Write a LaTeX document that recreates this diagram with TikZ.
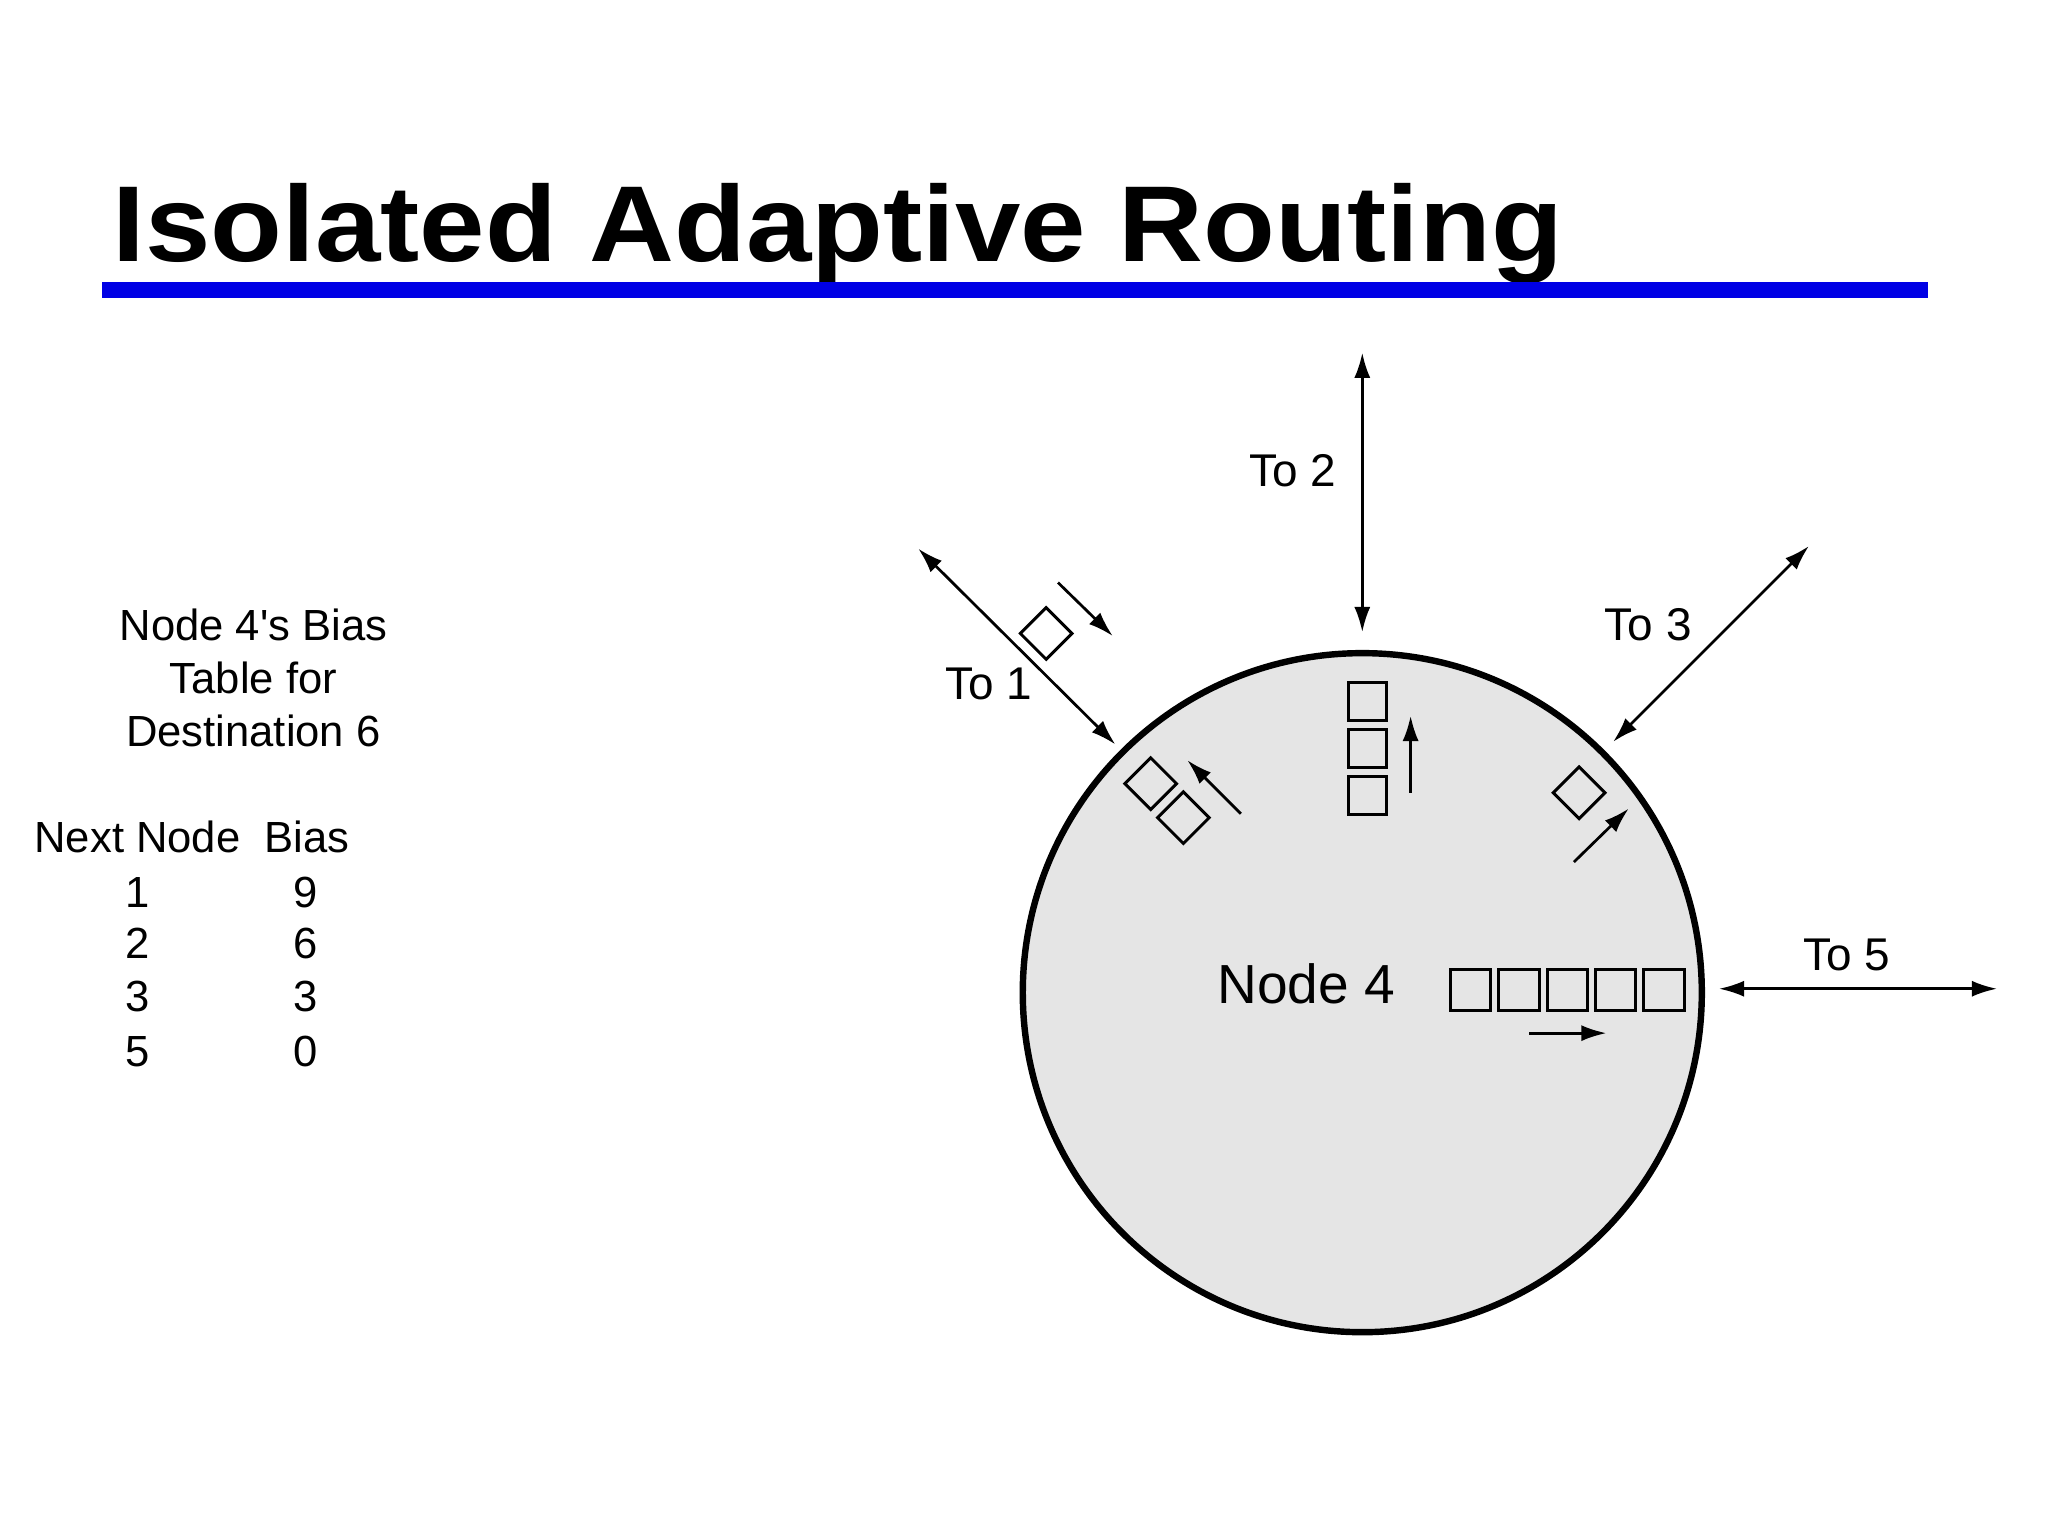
\documentclass[tikz,border=0pt]{standalone}
\usepackage{fontspec}
\setmainfont{Liberation Sans}
\usetikzlibrary{arrows.meta}
\begin{document}
\begin{tikzpicture}[x=0.02cm,y=-0.02cm,
  lbl/.style={font=\fontsize{19}{22}\selectfont},
  tlbl/.style={font=\fontsize{20}{23}\selectfont},
  box/.style={draw,line width=1.3pt,minimum size=0.58cm,inner sep=0pt},
  dbox/.style={box,rotate=45,minimum size=0.56cm},
  link/.style={line width=1.2pt,{Latex[length=11pt,width=7pt]}-{Latex[length=11pt,width=7pt]}},
  flow/.style={line width=1.2pt,-{Latex[length=11pt,width=7pt]}}]
\useasboundingbox (0,0) rectangle (1568,1176);
\node[anchor=base west,inner sep=0pt,xscale=1.09,transform shape,font=\bfseries\fontsize{47}{50}\selectfont] (title) at (86,200) {Isolated Adaptive Routing};
\fill[blue!90!black] (78,216) rectangle (1476,228);
% table
\node[lbl,align=center] (cap) at (194,519) {Node 4\textquotesingle s Bias\\[1pt]Table for\\[1pt]Destination 6};
\node[lbl] (hdr) at (147,641) {Next Node\ \ Bias};
\foreach \a/\b/\y in {1/9/683,2/6/722,3/3/763,5/0/805}{
  \node[lbl] (n\a) at (105,\y) {\a};
  \node[lbl] (b\a) at (234,\y) {\b};}
% circle
\node[draw,circle,fill=gray!20,line width=2.8pt,minimum size=10.4cm] (c) at (1043,760) {};
\node[font=\fontsize{24}{28}\selectfont] (n4) at (1000,753) {Node 4};
% links
\coordinate (t2a) at (1043,270); \coordinate (t2b) at (1043,484);
\draw[link] (t2a) -- (t2b);
\node[tlbl] (l2) at (990,360) {To 2};
\coordinate (t1a) at (703,420); \coordinate (t1b) at (854,570);
\draw[link] (t1a) -- (t1b);
\node[tlbl] (l1) at (757,524) {To 1};
\coordinate (t3a) at (1385,418); \coordinate (t3b) at (1235,568);
\draw[link] (t3a) -- (t3b);
\node[tlbl] (l3) at (1262,478) {To 3};
\coordinate (t5a) at (1316,757); \coordinate (t5b) at (1529,757);
\draw[link] (t5a) -- (t5b);
\node[tlbl] (l5) at (1414,731) {To 5};
% queues
\node[dbox] (d1) at (801,485) {};
\node[dbox] (d2) at (881,600) {};
\node[dbox] (d3) at (906,626) {};
\node[dbox] (d4) at (1209,607) {};
\foreach \i/\y in {1/537,2/573,3/609}{\node[box] (v\i) at (1047,\y) {};}
\foreach \i/\x in {1/1126,2/1163,3/1200,4/1237,5/1274}{\node[box,minimum size=0.62cm] (h\i) at (\x,758) {};}
% flow arrows
\coordinate (f1a) at (810,446); \coordinate (f1b) at (852,487);
\draw[flow] (f1a) -- (f1b);
\coordinate (f2a) at (950,623); \coordinate (f2b) at (909,582);
\draw[flow] (f2a) -- (f2b);
\coordinate (f3a) at (1080,607); \coordinate (f3b) at (1080,548);
\draw[flow] (f3a) -- (f3b);
\coordinate (f4a) at (1205,660); \coordinate (f4b) at (1247,619);
\draw[flow] (f4a) -- (f4b);
\coordinate (f5a) at (1171,791); \coordinate (f5b) at (1230,791);
\draw[flow] (f5a) -- (f5b);
\end{tikzpicture}
\end{document}
